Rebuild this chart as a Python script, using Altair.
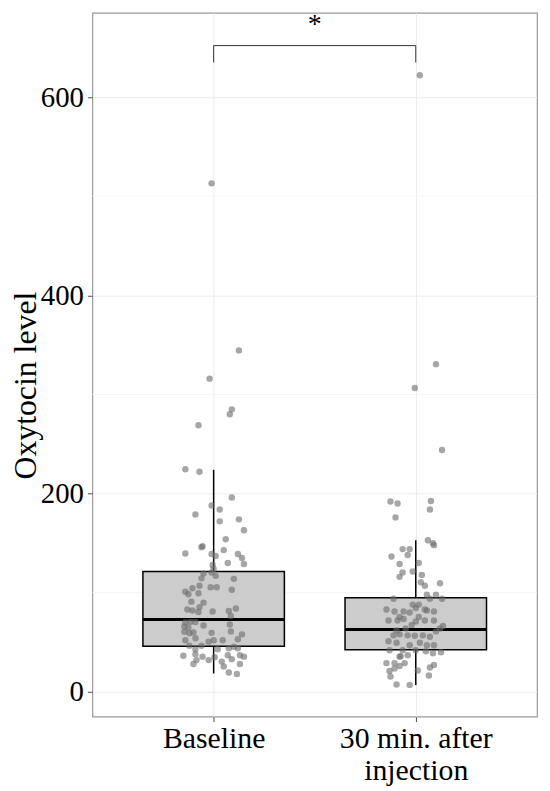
import json
import altair as alt
import pandas as pd

# ---- data ----
groups = [1, 2]
group_labels = [["Baseline"], ["30 min. after", "injection"]]
box_q1 = [46, 42.5]
box_median = [73, 63]
box_q3 = [121.5, 95]
whisker_low = [18.5, 7]
whisker_high = [224, 153]

base_values = [513, 344.5, 316, 285, 280, 269, 224.5, 222, 196, 188, 184, 179, 172, 174, 163, 154,
               146, 147, 139.5, 139, 137, 143, 139, 135, 129, 130, 128, 124, 120.5, 119.5, 114.5,
               117, 114, 105.5, 105.5, 107, 104.5, 101, 98.5, 99.5, 103, 91, 90, 85.5, 83, 82,
               80.5, 81, 81.5, 84, 76.5, 70, 70.5, 70.5, 67, 66, 64.5, 68, 60.5, 59, 60, 59.5,
               61, 58, 52, 54, 50.5, 52, 52, 53, 46.5, 46.5, 45.5, 44, 44, 43, 43, 36.5, 38,
               35.5, 32, 35, 37, 33, 37, 35.5, 32, 28, 30.5, 28, 25.5, 19.5, 18]
base_jitter = [-0.01, 0.125, -0.02, 0.09, 0.08, -0.075, -0.14, -0.07, 0.09, -0.01, 0.03, -0.09,
               0.03, 0.125, 0.15, 0.06, -0.06, -0.055, -0.14, -0.01, 0.01, 0.05, 0.12, 0.14, 0.15,
               0.07, -0.005, 0.0, -0.01, -0.05, -0.06, 0.01, 0.10, -0.015, 0.015, -0.07, -0.105,
               -0.14, -0.125, -0.075, 0.09, -0.11, -0.05, -0.07, -0.13, -0.105, -0.075, -0.005,
               0.075, 0.11, 0.085, -0.14, -0.115, -0.09, -0.05, -0.145, -0.125, 0.08, -0.145,
               -0.12, -0.10, -0.01, 0.085, 0.14, -0.14, -0.09, -0.025, 0.0, 0.045, 0.12, -0.12,
               -0.06, 0.10, 0.075, 0.12, -0.09, 0.02, -0.15, -0.09, -0.055, -0.025, 0.005, 0.07,
               0.09, 0.13, 0.15, -0.085, -0.10, 0.04, 0.13, 0.05, 0.075, 0.115]

post_values = [622, 330.6, 306.6, 244, 192, 190, 192.5, 184, 176, 153, 150, 148, 144, 144, 138,
               136.5, 129, 130, 120.5, 116, 121.5, 118, 110.5, 107, 109.5, 98, 98, 94, 94, 94,
               88, 88, 83, 81, 81, 80, 84.5, 83, 82, 81, 75.5, 72, 72, 73.5, 75.5, 72, 72, 67.5,
               71, 66.5, 64, 62, 64, 61, 57, 58, 57, 56.5, 57, 55.5, 51, 49.5, 47, 49.5, 47, 47,
               42, 42, 42, 41, 39, 40, 35.5, 36, 37, 29, 29, 26, 29, 27, 24.5, 21, 23.5, 21.5,
               15.5, 16.5, 7.5, 7]
post_jitter = [0.02, 0.10, -0.005, 0.13, -0.125, -0.09, 0.075, 0.07, -0.10, 0.06, 0.085, 0.09,
               -0.065, -0.03, -0.04, -0.12, -0.08, 0.015, -0.065, -0.08, -0.015, 0.03, 0.025,
               0.045, 0.12, 0.055, 0.10, 0.13, 0.07, -0.11, -0.015, 0.015, -0.145, -0.105, -0.06,
               -0.03, 0.0, 0.045, 0.055, 0.09, -0.08, -0.135, -0.09, -0.06, 0.015, 0.045, 0.09,
               -0.02, 0.0, 0.135, 0.12, -0.095, -0.05, 0.10, -0.11, -0.08, -0.04, -0.005, 0.035,
               0.07, -0.135, -0.095, -0.03, 0.02, 0.055, 0.09, -0.13, -0.065, 0.0, 0.05, 0.085,
               0.125, -0.08, -0.075, -0.04, -0.145, -0.105, -0.08, -0.055, 0.09, 0.07, -0.13,
               -0.105, 0.01, -0.125, 0.065, -0.095, -0.03]

y_major = [0, 200, 400, 600]
y_minor = [100, 300, 500]
bracket_low = 635
bracket_high = 652
star_y = 673
star_text = "*"
box_half_width = 0.35

FONT = "Liberation Serif"
X_DOMAIN = [0.4, 2.6]
Y_DOMAIN = [-25, 685]

# ---- tables ----
boxes = pd.DataFrame({
    "g": groups, "q1": box_q1, "med": box_median, "q3": box_q3,
    "lo": whisker_low, "hi": whisker_high,
})
boxes["left"] = boxes["g"] - box_half_width
boxes["right"] = boxes["g"] + box_half_width

pts = pd.DataFrame({
    "x": [groups[0] + j for j in base_jitter] + [groups[1] + j for j in post_jitter],
    "v": base_values + post_values,
})

bracket = pd.DataFrame({
    "x": [groups[0], groups[0], groups[1]],
    "x2": [groups[1], groups[0], groups[1]],
    "y": [bracket_high, bracket_low, bracket_low],
    "y2": [bracket_high, bracket_high, bracket_high],
})
star = pd.DataFrame({"x": [(groups[0] + groups[1]) / 2], "y": [star_y], "t": [star_text]})
minor = pd.DataFrame({"y": y_minor})

label_expr = "datum.value == {} ? {} : {}".format(
    groups[0], json.dumps(group_labels[0]), json.dumps(group_labels[1]))

xscale = alt.Scale(domain=X_DOMAIN, nice=False, zero=False)
yscale = alt.Scale(domain=Y_DOMAIN, nice=False, zero=False)

x_axis = alt.Axis(values=groups, labelExpr=label_expr, grid=True, gridColor="#ebebeb",
                  gridWidth=1, domain=False, ticks=True, tickColor="#4d4d4d", tickSize=5,
                  labelFont=FONT, labelFontSize=30, labelColor="black", labelPadding=2,
                  labelLineHeight=32, labelBaseline="top", title=None)
y_axis = alt.Axis(values=y_major, grid=True, gridColor="#ebebeb", gridWidth=1, domain=False,
                  ticks=True, tickColor="#4d4d4d", tickSize=5, labelFont=FONT,
                  labelFontSize=29, labelColor="black", labelPadding=4,
                  title="Oxytocin level", titleFont=FONT, titleFontSize=32,
                  titleFontWeight="normal", titleColor="black", titleAngle=-90,
                  titleX=-67, titleY=375, titleAlign="center", titleBaseline="middle")


def X(field):
    return alt.X(field, scale=xscale, axis=x_axis, title=None)


def Y(field):
    return alt.Y(field, scale=yscale, axis=y_axis, title="Oxytocin level")


minor_layer = alt.Chart(minor).mark_rule(color="#f5f5f5", strokeWidth=1).encode(
    y=Y("y:Q"),
    x=alt.value(0), x2=alt.value(448),
)

whisk = alt.Chart(boxes).mark_rule(color="black", strokeWidth=1.5).encode(
    x=X("g:Q"), y=Y("lo:Q"), y2="hi:Q",
)

box = alt.Chart(boxes).mark_bar(fill="#cccccc", stroke="black", strokeWidth=1.5).encode(
    x=X("left:Q"), x2="right:Q", y=Y("q1:Q"), y2="q3:Q",
)

med = alt.Chart(boxes).mark_rule(color="black", strokeWidth=3).encode(
    x=X("left:Q"), x2="right:Q", y=Y("med:Q"),
)

points = alt.Chart(pts).mark_circle(size=42, color="#6b6b6b", opacity=0.6).encode(
    x=X("x:Q"), y=Y("v:Q"),
)

br = alt.Chart(bracket).mark_rule(color="#333333", strokeWidth=1).encode(
    x=X("x:Q"), x2="x2:Q", y=Y("y:Q"), y2="y2:Q",
)

st = alt.Chart(star).mark_text(font=FONT, fontSize=28, color="black", baseline="middle").encode(
    x=X("x:Q"), y=Y("y:Q"), text="t:N",
)

chart = alt.layer(minor_layer, whisk, box, med, points, br, st).properties(
    width=448, height=709,
    autosize=alt.AutoSizeParams(type="none"),
    padding={"left": 85, "top": 2, "right": 5, "bottom": 70},
    background="white",
).configure_view(stroke="#999999", strokeWidth=1.2)

chart.save("out.html", embed_options={"renderer": "svg", "actions": False})
